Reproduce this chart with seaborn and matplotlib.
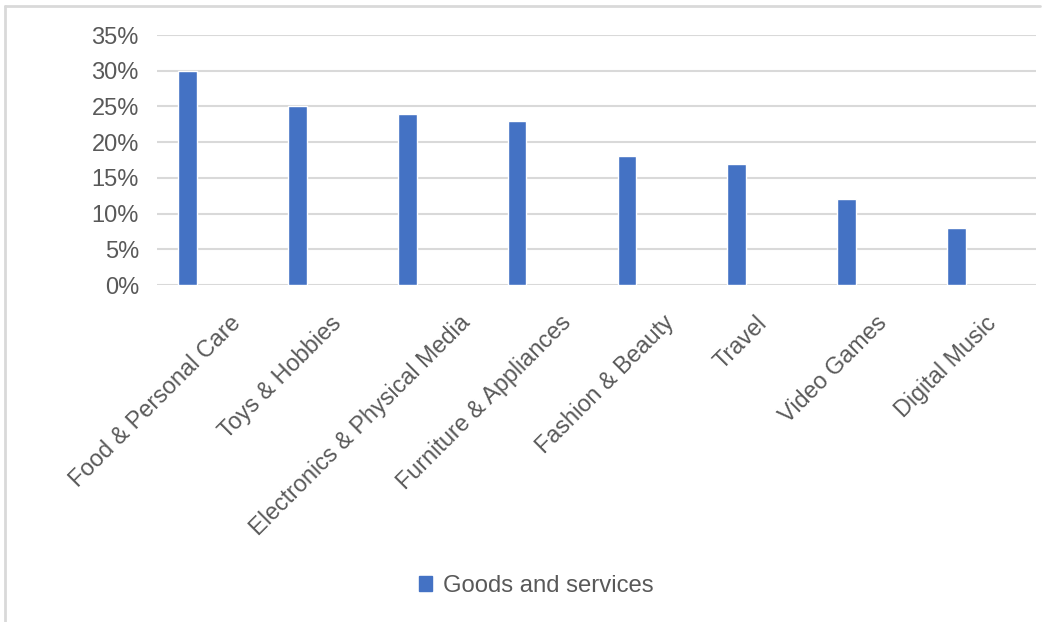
import matplotlib
matplotlib.use("Agg")
import matplotlib.pyplot as plt
import matplotlib.transforms as mtransforms
from matplotlib.lines import Line2D
from matplotlib.patches import Patch
import pandas as pd
import seaborn as sns

# data
categories = [
    "Food & Personal Care",
    "Toys & Hobbies",
    "Electronics & Physical Media",
    "Furniture & Appliances",
    "Fashion & Beauty",
    "Travel",
    "Video Games",
    "Digital Music",
]
share = [30, 25, 24, 23, 18, 17, 12, 8]
series_name = "Goods and services"
y_ticks = [0, 5, 10, 15, 20, 25, 30, 35]

BLUE = "#4472C4"
TEXT = "#595959"
GRID = "#D9D9D9"

sns.set_theme(style="white")
plt.rcParams["font.family"] = ["Liberation Sans", "DejaVu Sans"]

W, H = 1057, 622
fig = plt.figure(figsize=(W / 100, H / 100), dpi=100)
ax = fig.add_axes([157 / W, 1 - 285 / H, 879 / W, 250 / H])

df = pd.DataFrame({"category": categories, "share": share})
sns.barplot(data=df, x="category", y="share", color=BLUE, saturation=1,
            width=0.17, ax=ax)

# bars sit left of the slot centre, as in the excel original
ax.set_xlim(-0.277, 7.723)
ax.set_ylim(0, 35)
ax.set_yticks(y_ticks)
ax.set_yticklabels([f"{v}%" for v in y_ticks])
ax.yaxis.grid(True, color=GRID, lw=1.5)
ax.set_axisbelow(True)
for s in ax.spines.values():
    s.set_visible(False)
ax.set_xlabel("")
ax.set_ylabel("")

ax.tick_params(axis="y", length=0, pad=13, labelsize=17, labelcolor=TEXT)
ax.tick_params(axis="x", length=0, pad=19, labelsize=16.8, labelcolor=TEXT)
ax.set_xticks(range(len(categories)))
ax.set_xticklabels(categories, rotation=45, ha="right", va="top",
                   rotation_mode="default")

# excel-ish placement: longer labels sit a bit further right of the bar
fig.canvas.draw()
for lab in ax.get_xticklabels():
    w = lab.get_window_extent().width
    dx = (22 + 0.2 * w) / 100
    lab.set_transform(lab.get_transform() +
                      mtransforms.ScaledTranslation(dx, 0, fig.dpi_scale_trans))

fig.legend(handles=[Patch(color=BLUE)], labels=[series_name],
           loc="center", bbox_to_anchor=(536 / W, 1 - 586 / H),
           frameon=False, fontsize=17.2, handlelength=0.55, handleheight=0.55,
           handletextpad=0.45, labelcolor=TEXT)

# chart area border (left and top edges visible)
fig.add_artist(Line2D([5 / W, 5 / W], [0, 1 - 6 / H], transform=fig.transFigure,
                      color=GRID, lw=2))
fig.add_artist(Line2D([5 / W, 1040 / W], [1 - 6 / H, 1 - 6 / H],
                      transform=fig.transFigure, color=GRID, lw=2))

fig.savefig("out.png", dpi=100)
